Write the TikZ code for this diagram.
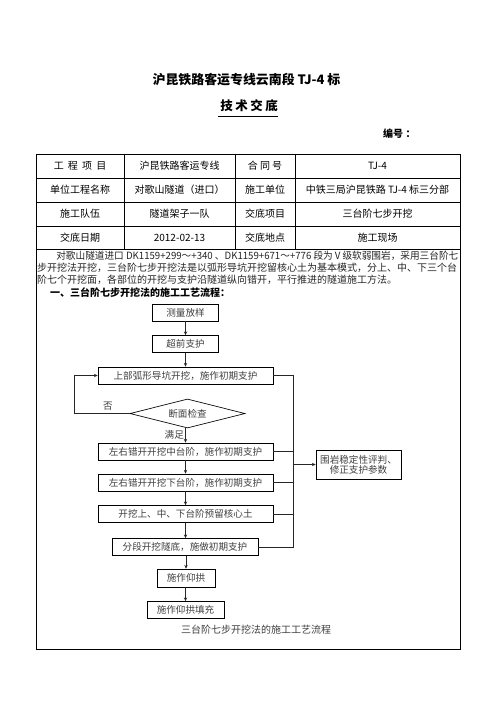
\documentclass[tikz,border=0pt]{standalone}
\usepackage{fontspec}
\usepackage{graphicx}
\setmainfont{Noto Sans CJK SC}
\usetikzlibrary{arrows.meta,shapes.geometric}
\begin{document}
\begin{tikzpicture}[x=1.2pt,y=-1.2pt,
  tl/.style={line width=0.9pt},
  cell/.style={font=\fontsize{12}{14}\selectfont, inner sep=0},
  para/.style={font=\fontsize{12}{14}\selectfont, text=black!85, inner sep=0, anchor=west},
  fbox/.style={draw, line width=0.8pt, minimum height=20.4pt, inner sep=0, font=\fontsize{11.5}{13}\selectfont, text=black!75},
  arr/.style={-{Stealth[length=4.5pt,width=4pt]}, line width=0.8pt, black!85},
  ln/.style={line width=0.8pt, black!85},
  lbl/.style={font=\fontsize{11.5}{13}\selectfont, text=black!75, inner sep=0}
]
\useasboundingbox (0,0) rectangle (496,702);
\fill[white] (0,0) rectangle (496,702);

% titles
\node[font=\bfseries\fontsize{15.5}{18}\selectfont, inner sep=0] (t1) at (246.5,80) {沪昆铁路客运专线云南段 TJ-4 标};
\node[font=\bfseries\fontsize{15}{18}\selectfont\addfontfeature{LetterSpace=20}, inner sep=0] (t2) at (249,106) {技术交底};
\draw[line width=1.4pt] (218,116.5) -- (278,116.5);
\node[font=\bfseries\fontsize{12}{14}\selectfont, anchor=west, inner sep=0] (bh) at (383,134) {编号\hspace{3pt}：};

% table
\draw[tl] (36,154) rectangle (460,649);
\foreach \y in {178,202,226,249} \draw[tl] (36,\y) -- (460,\y);
\foreach \x in {124,235,295} \draw[tl] (\x,154) -- (\x,249);

\node[cell] (c11) at (80,166) {工\hspace{5pt}程\hspace{5pt}项\hspace{5pt}目};
\node[cell] (c12) at (179.5,166) {沪昆铁路客运专线};
\node[cell] (c13) at (265,166) {合 同 号};
\node[cell] (c14) at (377.5,166) {TJ-4};
\node[cell] (c21) at (80,190) {单位工程名称};
\node[cell] (c22) at (179.5,190) {对歌山隧道（进口）};
\node[cell] (c23) at (265,190) {施工单位};
\node[cell] (c24) at (377.5,190) {中铁三局沪昆铁路 TJ-4 标三分部};
\node[cell] (c31) at (80,214) {施工队伍};
\node[cell] (c32) at (179.5,214) {隧道架子一队};
\node[cell] (c33) at (265,214) {交底项目};
\node[cell] (c34) at (377.5,214) {三台阶七步开挖};
\node[cell] (c41) at (80,237.5) {交底日期};
\node[cell] (c42) at (179.5,237.5) {2012-02-13};
\node[cell] (c43) at (265,237.5) {交底地点};
\node[cell] (c44) at (377.5,237.5) {施工现场};

% paragraph
\node[para, anchor=east] (p1) at (458.5,256) {\scalebox{0.965}[1]{对歌山隧道进口 DK1159+299～+340 、DK1159+671～+776 段为Ⅴ级软弱围岩，采用三台阶七}};
\node[para] (p2) at (37,268) {步开挖法开挖，三台阶七步开挖法是以弧形导坑开挖留核心土为基本模式，分上、中、下三个台};
\node[para] (p3) at (37,280) {阶七个开挖面，各部位的开挖与支护沿隧道纵向错开，平行推进的隧道施工方法。};
\node[para, font=\bfseries\fontsize{12}{14}\selectfont, text=black] (p4) at (50,292.5) {一、三台阶七步开挖法的施工工艺流程：};

% flowchart
\node[fbox, minimum width=79.2pt] (b1) at (185.5,312.5) {测量放样};
\node[fbox, minimum width=79.2pt] (b2) at (185.5,344) {超前支护};
\node[fbox, minimum width=210pt] (b3) at (185.5,375.5) {上部弧形导坑开挖，施作初期支护};
\node[draw, line width=0.8pt, diamond, shape aspect=4, minimum width=138pt, minimum height=34.8pt, inner sep=0, font=\fontsize{11.5}{13}\selectfont, text=black!75] (d) at (187.5,413.5) {断面检查};
\node[fbox, minimum width=210pt] (b4) at (185.5,451.5) {左右错开开挖中台阶，施作初期支护};
\node[fbox, minimum width=210pt] (b5) at (185.5,482.5) {左右错开开挖下台阶，施作初期支护};
\node[fbox, minimum width=210pt] (b6) at (185.5,514) {开挖上、中、下台阶预留核心土};
\node[fbox, minimum width=175.2pt] (b7) at (185,547) {分段开挖隧底，施做初期支护};
\node[fbox, minimum width=69.6pt, minimum height=21.6pt] (b8) at (186,578) {施作仰拱};
\node[fbox, minimum width=92.4pt] (b9) at (185.5,610) {施作仰拱填充};
\node[fbox, minimum width=102pt, minimum height=34.8pt, align=center, font=\fontsize{11.5}{12}\selectfont] (r) at (358.5,464.5) {围岩稳定性评判、\\修正支护参数};

\node[lbl] (no) at (108,406.5) {否};
\node[lbl, anchor=east] (ok) at (184,434.5) {满足};
\node[lbl, font=\fontsize{12}{14}\selectfont] (cap) at (256,630) {三台阶七步开挖法的施工工艺流程};

\draw[arr] (b1) -- (b2);
\draw[arr] (b2) -- (b3);
\draw[arr] (d.south -| b4.north) -- (b4.north);
\draw[arr] (b4) -- (b5);
\draw[arr] (b5) -- (b6);
\draw[arr] (b6.south) -- (b6.south |- b7.north);
\draw[arr] (b7.south -| b8.north) -- (b8.north);
\draw[arr] (b8.south -| b9.north) -- (b9.north);
\draw[arr] (d.west) -- ++(-55,0) |- (b3.west);

\coordinate (bus) at (293,0);
\draw[ln] (b3.east) -- (b3.east -| bus) -- (b7.east -| bus) -- (b7.east);
\draw[ln] (b4.east) -- (b4.east -| bus);
\draw[ln] (b5.east) -- (b5.east -| bus);
\draw[ln] (b6.east) -- (b6.east -| bus);
\draw[arr] (r.west -| bus) -- (r.west);
\end{tikzpicture}
\end{document}
